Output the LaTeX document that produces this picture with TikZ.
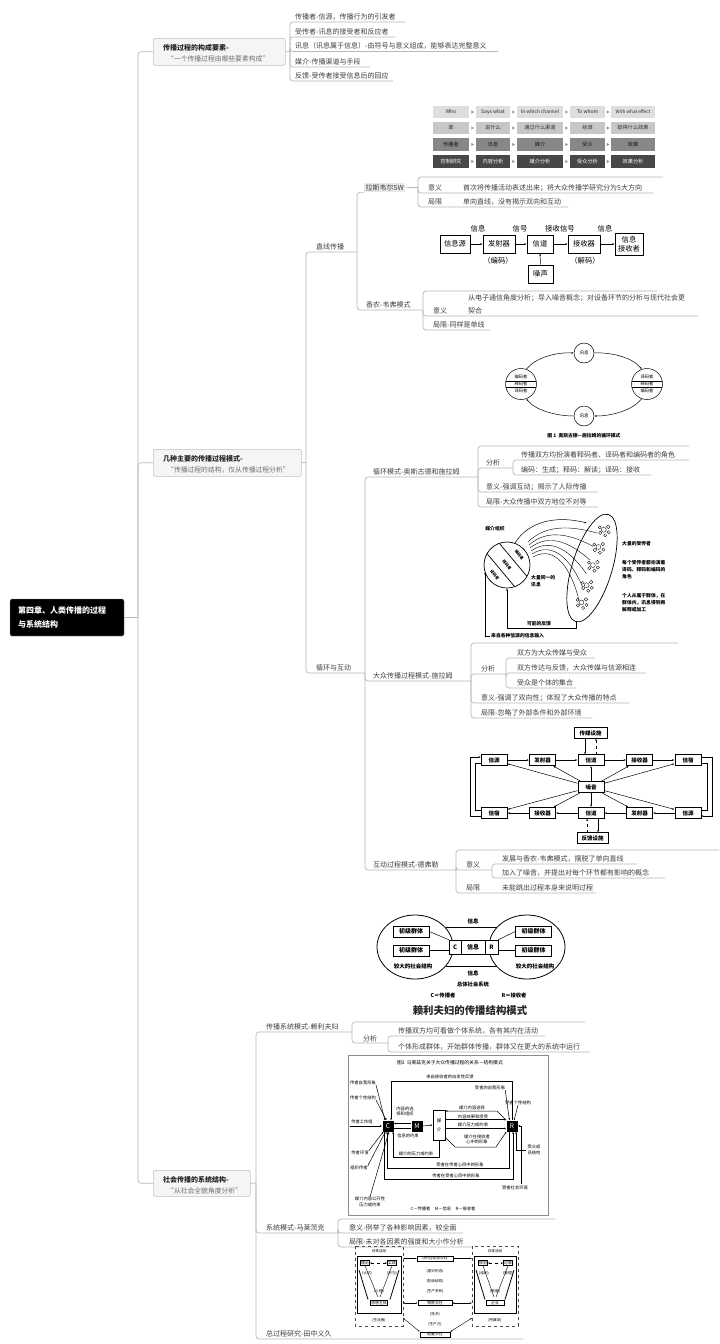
\documentclass[tikz,border=0pt]{standalone}
\usepackage{fontspec}
\setmainfont{Noto Sans CJK SC}
\usetikzlibrary{arrows.meta,calc}
\definecolor{lg}{HTML}{B8B8B8}
\definecolor{txt}{HTML}{404040}
\definecolor{subc}{HTML}{6E6E6E}
\definecolor{boxfill}{HTML}{F5F5F5}
\definecolor{boxline}{HTML}{C2C2C2}
\newcommand{\myfs}[1]{\fontsize{#1}{#1}\selectfont}
\newcommand{\wcell}[7]{\fill[#5] (#1,#3) rectangle (#2,#4);
  \node[inner sep=0pt,text=#6,font=\myfs{5.2}] at ({(#1+#2)/2},{(#3+#4)/2}) {#7};}
\newcommand{\wtri}[2]{\fill[black!45] (#1-1.2,#2-1.6) -- (#1+1.4,#2) -- (#1-1.2,#2+1.6) -- cycle;}
\begin{document}
\begin{tikzpicture}[x=1pt,y=-1pt,
  conn/.style={draw=lg,line width=0.7pt,rounded corners=3pt},
  lbl/.style={inner sep=0pt,anchor=base west,text=txt,font=\myfs{7}},
  bbox/.style={draw=boxline,fill=boxfill,rounded corners=2pt,line width=0.6pt,anchor=north west,inner sep=0pt},
  btitle/.style={inner sep=0pt,anchor=base west,text=black!85,font=\bfseries\myfs{7}},
  bsub/.style={inner sep=0pt,anchor=base west,text=subc,font=\myfs{6.8}},
  dg/.style={draw=black,line width=0.5pt},
  arr/.style={-{Latex[length=3pt,width=2.4pt]}},
  sarr/.style={-{Latex[length=2.2pt,width=1.8pt]}},
  darr/.style={{Latex[length=1.8pt,width=1.5pt]}-{Latex[length=1.8pt,width=1.5pt]}},
  sbox/.style={draw=black,line width=0.6pt,inner sep=1pt,font=\myfs{7.3},minimum height=18pt},
  slab/.style={inner sep=0pt,font=\myfs{7.3}},
  ocirc/.style={circle,draw=black,line width=0.5pt,inner sep=0pt},
  tiny/.style={inner sep=0pt,font=\myfs{4.3}},
  tinyb/.style={inner sep=0pt,font=\bfseries\myfs{4.8}},
  rtxt/.style={inner sep=0pt,font=\bfseries\myfs{3.8},rotate=-50},
  dbox/.style={draw=black,line width=0.9pt,minimum width=26pt,minimum height=11pt,inner sep=0pt,font=\bfseries\myfs{5.5}},
  rbox/.style={draw=black,line width=0.6pt,inner sep=0pt,font=\bfseries\myfs{6}},
  mbox/.style={fill=black,text=white,minimum size=11pt,inner sep=0pt,font=\myfs{6.5}},
  tbox/.style={draw=black,line width=0.4pt,inner sep=0.8pt,font=\myfs{3.8}},
  ttiny/.style={inner sep=0pt,font=\myfs{3.6}},
]
\useasboundingbox (0,0) rectangle (720,1344);
\fill[white] (0,0) rectangle (720,1344);

%================ root & trunk
\node[fill=black,draw=black!60!blue!50,rounded corners=1.5pt,minimum width=114pt,minimum height=37pt,text width=98pt,align=left,text=white,font=\bfseries\fontsize{8}{14}\selectfont,inner sep=0pt] (root) at (67,617.5) {第四章、人类传播的过程\\与系统结构};

\node[bbox,minimum width=132pt,minimum height=27pt] (b1) at (153,38) {};
\node[btitle] (b1t) at (163,50) {传播过程的构成要素-};
\node[bsub] (b1s) at (167,61.5) {“一个传播过程由哪些要素构成”};

\node[bbox,minimum width=148pt,minimum height=27pt] (b2) at (153,449) {};
\node[btitle] (b2t) at (163,461) {几种主要的传播过程模式-};
\node[bsub] (b2s) at (167,472.5) {“传播过程的结构，仅从传播过程分析”};

\node[bbox,minimum width=97pt,minimum height=26pt] (b3) at (153,1170) {};
\node[btitle] (b3t) at (163,1182) {社会传播的系统结构-};
\node[bsub] (b3s) at (167,1193) {“从社会全貌角度分析”};

\coordinate (tr) at (138,617.5);
\draw[conn] (root.east) -- (tr);
\draw[conn] (tr) |- (b1.west);
\draw[conn] (tr) |- (b2.west);
\draw[conn] (tr) |- (b3.west);

%================ branch 1
\coordinate (v1) at (290,51.5);
\draw[conn] (b1.east) -- (v1);
\draw[conn] (v1) |- (405,22);
\draw[conn] (v1) |- (395,37);
\draw[conn] (v1) |- (498,51.5);
\draw[conn] (v1) |- (370,67);
\draw[conn] (v1) |- (393,81);
\node[lbl] (k11) at (295,19) {传播者-信源，传播行为的引发者};
\node[lbl] (k12) at (295,34) {受传者-讯息的接受者和反应者};
\node[lbl] (k13) at (295,48.5) {讯息（讯息属于信息）-由符号与意义组成，能够表达完整意义};
\node[lbl] (k14) at (295,64) {媒介-传播渠道与手段};
\node[lbl] (k15) at (295,78) {反馈-受传者接受信息后的回应};

%================ branch 2
\coordinate (v2) at (306,462.5);
\draw[conn] (b2.east) -- (v2);
\draw[conn] (v2) |- (357,252);
\draw[conn] (v2) |- (365,673);
\node[lbl] (zx) at (316,249) {直线传播};
\node[lbl] (xh) at (316,670) {循环与互动};

% --- 直线传播
\node[fill=black!9,inner sep=1.5pt,anchor=base west,text=txt,font=\myfs{7}] (lsw) at (364,190) {拉斯韦尔5W};
\draw[conn] (357,252) |- (lsw.south west);
\coordinate (v5w) at (418,187.5);
\draw[conn] (lsw.east) -- (v5w);
\draw[conn] (v5w) |- (663,177);
\draw[conn] (v5w) |- (653,193);
\draw[conn] (v5w) |- (568,207);
\node[lbl] (l5a) at (428,190) {意义};
\node[lbl] (l5b) at (463,190) {首次将传播活动表述出来；将大众传播学研究分为5大方向};
\node[lbl] (l5c) at (428,204) {局限};
\node[lbl] (l5d) at (463,204) {单向直线，没有揭示双向和互动};

% 5W table
\wcell{433}{469}{106}{118}{black!13}{black!85}{\myfs{5}Who}
\wcell{476}{510}{106}{118}{black!13}{black!85}{\myfs{5}Says what}
\wcell{517}{563}{106}{118}{black!13}{black!85}{\myfs{4.8}In which channel}
\wcell{570}{605}{106}{118}{black!13}{black!85}{\myfs{5}To whom}
\wcell{611}{655}{106}{118}{black!13}{black!85}{\myfs{4.6}With what effect}
\wcell{433}{469}{122}{134}{black!22}{black!80}{谁}
\wcell{476}{510}{122}{134}{black!22}{black!80}{说什么}
\wcell{517}{563}{122}{134}{black!22}{black!80}{通过什么渠道}
\wcell{570}{605}{122}{134}{black!22}{black!80}{给谁}
\wcell{611}{655}{122}{134}{black!22}{black!80}{取得什么效果}
\wcell{433}{469}{138}{151}{black!47}{black!90}{传播者}
\wcell{476}{510}{138}{151}{black!47}{black!90}{讯息}
\wcell{517}{563}{138}{151}{black!47}{black!90}{媒介}
\wcell{570}{605}{138}{151}{black!47}{black!90}{受众}
\wcell{611}{655}{138}{151}{black!47}{black!90}{效果}
\wcell{433}{469}{155}{168}{black!72}{white}{控制研究}
\wcell{476}{510}{155}{168}{black!72}{white}{内容分析}
\wcell{517}{563}{155}{168}{black!72}{white}{媒介分析}
\wcell{570}{605}{155}{168}{black!72}{white}{受众分析}
\wcell{611}{655}{155}{168}{black!72}{white}{效果分析}
\foreach \yy in {112,128,144.5,161.5}{
  \wtri{472.5}{\yy}\wtri{513.5}{\yy}\wtri{566.5}{\yy}\wtri{608}{\yy}}

% --- 香农-韦弗
\draw[conn] (357,252) |- (423,310);
\node[lbl] (sw) at (366,307) {香农-韦弗模式};
\coordinate (vsw) at (423,310);
\draw[conn] (vsw) |- (657,291);
\draw[conn] (vsw) |- (698,316);
\draw[conn] (vsw) |- (490,330);
\node[lbl] (swa) at (433,313) {意义};
\node[lbl] (swb) at (468,300) {从电子通信角度分析；导入噪音概念；对设备环节的分析与现代社会更};
\node[lbl] (swc) at (468,313) {契合};
\node[lbl] (swd) at (433,327) {局限-同样是单线};

% Shannon diagram
\node[sbox,minimum width=30pt] (s1) at (455,244) {信息源};
\node[sbox,minimum width=32pt] (s2) at (499,244) {发射器};
\node[sbox,minimum width=26pt] (s3) at (540,244) {信道};
\node[sbox,minimum width=32pt] (s4) at (584,244) {接收器};
\node[sbox,minimum width=28pt,minimum height=22pt,align=center,font=\fontsize{7.3}{9}\selectfont] (s5) at (629,244) {信息\\接收者};
\node[sbox,minimum width=25pt] (sN) at (540.5,274) {噪声};
\draw[dg,sarr] (s1) -- (s2);
\draw[dg,sarr] (s2) -- (s3);
\draw[dg,sarr] (s3) -- (s4);
\draw[dg,sarr] (s4) -- (s5);
\draw[dg,sarr] (sN) -- (s3);
\node[slab] (sl1) at (478,229) {信息};
\node[slab] (sl2) at (520,229) {信号};
\node[slab] (sl3) at (560,229) {接收信号};
\node[slab] (sl4) at (605,229) {信息};
\node[slab] (sl5) at (498,261) {（编码）};
\node[slab] (sl6) at (585,261) {（解码）};

% --- 循环与互动
\coordinate (vxh) at (365,673);
\draw[conn] (vxh) |- (478,477);
\draw[conn] (vxh) |- (471,681);
\draw[conn] (vxh) |- (456,870);
\node[lbl] (os) at (373,474) {循环模式-奥斯古德和施拉姆};
\node[lbl] (ms) at (373,678) {大众传播过程模式-施拉姆};
\node[lbl] (df) at (373,867) {互动过程模式-德弗勒};

% 循环模式 children
\coordinate (vos) at (478,477);
\draw[conn] (vos) |- (689,446);
\draw[conn] (vos) |- (513,468);
\draw[conn] (vos) |- (598,492);
\draw[conn] (vos) |- (598,507);
\node[lbl] (osa) at (486,465) {分析};
\node[lbl] (osb) at (486,489) {意义-强调互动；揭示了人际传播};
\node[lbl] (osc) at (486,504) {局限-大众传播中双方地位不对等};
\coordinate (vosa) at (513,468);
\draw[conn] (vosa) |- (689,460);
\draw[conn] (vosa) |- (651,475);
\node[lbl] (osa1) at (521,457) {传播双方均扮演着释码者、译码者和编码者的角色};
\node[lbl] (osa2) at (521,472) {编码：生成；释码：解读；译码：接收};

% Osgood diagram
\node[ocirc,minimum size=20pt,font=\myfs{4.5}] (oT) at (584,353) {讯息};
\node[ocirc,minimum size=20pt,font=\myfs{4.5}] (oB) at (584,416) {讯息};
\node[ocirc,minimum size=31pt] (oL) at (521,384) {};
\node[ocirc,minimum size=31pt] (oR) at (647,384) {};
\draw[dg] (505.8,380.8) -- (536.2,380.8);
\draw[dg] (505.8,387.2) -- (536.2,387.2);
\draw[dg] (631.8,380.8) -- (662.2,380.8);
\draw[dg] (631.8,387.2) -- (662.2,387.2);
\node[tiny] (oL1) at (521,377.3) {编码者};
\node[tiny] (oL2) at (521,384) {释码者};
\node[tiny] (oL3) at (521,390.7) {译码者};
\node[tiny] (oR1) at (647,377.3) {译码者};
\node[tiny] (oR2) at (647,384) {释码者};
\node[tiny] (oR3) at (647,390.7) {编码者};
\draw[dg,sarr] (oL.70) .. controls (535,358) and (556,352) .. (oT.west);
\draw[dg,sarr] (oT.east) .. controls (612,352) and (633,358) .. (oR.110);
\draw[dg,sarr] (oR.-110) .. controls (633,410) and (612,416) .. (oB.east);
\draw[dg,sarr] (oB.west) .. controls (556,416) and (535,410) .. (oL.-70);
\node[tinyb] (ocap) at (584,436) {图 1\ \ 奥斯古德—施拉姆的循环模式};

% 大众传播 children
\coordinate (vms) at (471,681);
\draw[conn] (vms) |- (678,643);
\draw[conn] (vms) |- (506,674);
\draw[conn] (vms) |- (629,703);
\draw[conn] (vms) |- (592,718);
\node[lbl] (msa) at (481,671) {分析};
\node[lbl] (msb) at (481,700) {意义-强调了双向性；体现了大众传播的特点};
\node[lbl] (msc) at (481,715) {局限-忽略了外部条件和外部环境};
\coordinate (vmsa) at (506,674);
\draw[conn] (vmsa) |- (595,658);
\draw[conn] (vmsa) |- (646,673);
\draw[conn] (vmsa) |- (576,688);
\node[lbl] (msa1) at (517,655) {双方为大众传媒与受众};
\node[lbl] (msa2) at (517,670) {双方传达与反馈，大众传媒与信源相连};
\node[lbl] (msa3) at (517,685) {受众是个体的集合};

% Schramm mass diagram
\node[ocirc,minimum size=46pt,line width=0.7pt] (sc) at (507,565) {};
\draw[dg,line width=0.7pt] (499.3,543.3) -- (527,576.4);
\draw[dg,line width=0.7pt] (487,553.6) -- (514.7,586.7);
\node[rtxt] (sc1) at (519.3,554.7) {编码者};
\node[rtxt] (sc2) at (507,565) {释码者};
\node[rtxt] (sc3) at (494.7,575.3) {译码者};
\draw[dg,line width=0.7pt,rotate around={-17:(592,568)}] (592,568) ellipse [x radius=20pt,y radius=56pt];
\foreach \cx/\cy in {603.7/529.8,598.4/547,592.9/565.1,586.7/585.2,581.5/602.4}{
  \foreach \dx/\dy/\rr in {0/0/2.4,4.5/-3/1.8,5/2.5/1.6,-3.5/3/1.7,1.5/5.5/1.6,-4/-2.5/1.5}{
    \draw[black,line width=0.35pt] (\cx+\dx,\cy+\dy) circle [radius=\rr pt];}}
\foreach \i in {0,...,5}{
  \draw[dg,line width=0.4pt] ({528+\i},{542+3*\i}) .. controls ({546+2*\i},{524+4*\i}) and (572,{526+9*\i}) .. ({597-3.6*\i},{533+13.5*\i});}
\draw[dg,sarr] (515,543) .. controls (528,522) and (555,515) .. (587,523);
\draw[dg,sarr] (576,621) -- (576,628) -- (507,628) -- (sc.south);
\draw[dg,sarr] (490,636) -- (485,636) -- (485,572);
\node[tinyb] (m1) at (495,529) {媒介组织};
\node[tinyb,anchor=west] (m2) at (622,544) {大量的受传者};
\node[tinyb,anchor=west,align=left,font=\bfseries\fontsize{4.8}{7}\selectfont] (m3) at (622,569.5) {每个受传者都扮演着\\译码、释码和编码的\\角色};
\node[tinyb,anchor=west,align=left,font=\bfseries\fontsize{4.8}{7}\selectfont] (m4) at (622,603) {个人从属于群体，在\\群体内，讯息得到再\\解释或加工};
\node[tinyb,anchor=west,align=left,font=\bfseries\fontsize{4.8}{7}\selectfont] (m5) at (531,581.5) {大量同一的\\讯息};
\node[tinyb] (m6) at (539,623.5) {可能的反馈};
\node[tinyb,anchor=west] (m7) at (491,636) {来自各种信源的信息输入};

% 互动 children
\coordinate (vdf) at (456,870);
\draw[conn] (vdf) |- (719,850);
\draw[conn] (vdf) |- (492,870);
\draw[conn] (vdf) |- (596,893);
\node[lbl] (dfa) at (466,867) {意义};
\node[lbl] (dfb) at (466,890) {局限};
\node[lbl] (dfc) at (502,890) {未能跳出过程本身来说明过程};
\coordinate (vdfa) at (492,870);
\draw[conn] (vdfa) |- (637,864);
\draw[conn] (vdfa) |- (665,878);
\node[lbl] (dfa1) at (502,861) {发展与香农-韦弗模式，摆脱了单向直线};
\node[lbl] (dfa2) at (502,875) {加入了噪音，并提出对每个环节都有影响的概念};

% DeFleur diagram
\node[dbox] (t1) at (494,760) {信源};
\node[dbox] (t2) at (542.5,760) {发射器};
\node[dbox] (t3) at (591,760) {信道};
\node[dbox] (t4) at (639.5,760) {接收器};
\node[dbox] (t5) at (688,760) {信宿};
\node[dbox] (d1) at (494,813) {信宿};
\node[dbox] (d2) at (542.5,813) {接收器};
\node[dbox] (d3) at (591,813) {信道};
\node[dbox] (d4) at (639.5,813) {发射器};
\node[dbox] (d5) at (688,813) {信源};
\node[dbox] (dN) at (591,787) {噪音};
\node[dbox,minimum width=33pt] (dT) at (590.5,733) {传媒设施};
\node[dbox,minimum width=31pt] (dB) at (592.5,838) {反馈设施};
\draw[dg,sarr] (t1) -- (t2);
\draw[dg,sarr] (t2) -- (t3);
\draw[dg,sarr] (t3) -- (t4);
\draw[dg,sarr] (t4) -- (t5);
\draw[dg,sarr] (d5) -- (d4);
\draw[dg,sarr] (d4) -- (d3);
\draw[dg,sarr] (d3) -- (d2);
\draw[dg,sarr] (d2) -- (d1);
\foreach \n in {t1,t2,t4,t5,d1,d2,d4,d5}{\draw[dg,sarr] (dN) -- (\n);}
\draw[dg,sarr] (dN) -- (t3);
\draw[dg,sarr] (dN) -- (d3);
\draw[dg,sarr] (585,738.5) -- (585,754.5);
\draw[dg,dashed,sarr] (596,754.5) -- (596,738.5);
\draw[dg,dashed,sarr] (587,832.5) -- (587,818.5);
\draw[dg,sarr] (598,818.5) -- (598,832.5);
\draw[dg,sarr] (481,816) -- (470,816) -- (470,757) -- (481,757);
\draw[dg] (481,810) -- (475,810) -- (475,763) -- (481,763);
\draw[dg,sarr] (701,757) -- (712,757) -- (712,816) -- (701,816);
\draw[dg] (701,763) -- (707,763) -- (707,810) -- (701,810);

%================ branch 3
\coordinate (v3) at (256,1183);
\draw[conn] (b3.east) -- (v3);
\draw[conn] (v3) |- (352,1032);
\draw[conn] (v3) |- (338,1233);
\draw[conn] (v3) |- (523,1339);
\node[lbl] (rl) at (266,1029) {传播系统模式-赖利夫妇};
\node[lbl] (ml) at (266,1230) {系统模式-马莱茨克};
\node[lbl] (tn) at (266,1336) {总过程研究-田中义久};

% Riley children
\coordinate (vrl) at (352,1032);
\draw[conn] (vrl) |- (585,1022);
\draw[conn] (vrl) |- (388,1043);
\node[lbl] (rla) at (363,1041) {分析};
\coordinate (vrla) at (388,1043);
\draw[conn] (vrla) |- (545,1036);
\draw[conn] (vrla) |- (590,1052);
\node[lbl] (rla1) at (398,1033) {传播双方均可看做个体系统，各有其内在活动};
\node[lbl] (rla2) at (398,1049) {个体形成群体，开始群体传播，群体又在更大的系统中运行};

% Riley diagram
\draw[dg,line width=0.8pt] (415,947) ellipse [x radius=38pt,y radius=32pt];
\draw[dg,line width=0.8pt] (527,947) ellipse [x radius=38pt,y radius=32pt];
\draw[dg,line width=0.7pt] (445.5,927.5) -- (496.5,927.5);
\draw[dg,line width=0.7pt] (445.5,966.5) -- (496.5,966.5);
\node[rbox,minimum width=36pt,minimum height=11pt] (rl1) at (411,931.5) {初级群体};
\node[rbox,minimum width=36pt,minimum height=11pt] (rl2) at (411,950.5) {初级群体};
\node[rbox,minimum width=36pt,minimum height=11pt] (rr1) at (533.5,931.5) {初级群体};
\node[rbox,minimum width=36pt,minimum height=11pt] (rr2) at (533.5,950.5) {初级群体};
\node[rbox,minimum width=12pt,minimum height=14pt,fill=white] (rC) at (455,947) {C};
\node[rbox,minimum width=24pt,minimum height=14pt,fill=white] (rI) at (473,947) {信息};
\node[rbox,minimum width=13pt,minimum height=14pt,fill=white] (rR) at (491.5,947) {R};
\draw[dg] (rl1.east) -- (rC.north west);
\draw[dg] (rl2.east) -- (rC.west |- rl2.east);
\draw[dg] (rr1.west) -- (rR.north east);
\draw[dg] (rr2.west) -- (rR.east |- rr2.east);
\node[inner sep=0pt,font=\bfseries\myfs{5.5}] (ri1) at (473,921) {信息};
\node[inner sep=0pt,font=\bfseries\myfs{5.5}] (ri2) at (473,973) {信息};
\node[inner sep=0pt,font=\bfseries\myfs{5.5}] (rs1) at (413,966) {较大的社会结构};
\node[inner sep=0pt,font=\bfseries\myfs{5.5}] (rs2) at (535,966) {较大的社会结构};
\node[inner sep=0pt,font=\bfseries\myfs{5.3}] (rs3) at (473,984) {总体社会系统};
\node[inner sep=0pt,font=\bfseries\myfs{5.3}] (rs4) at (443,995) {C＝传播者};
\node[inner sep=0pt,font=\bfseries\myfs{5.3}] (rs5) at (514,995) {R＝接收者};
\node[inner sep=0pt,font=\bfseries\myfs{10.4},text=black!85] (rtitle) at (470,1011) {赖利夫妇的传播结构模式};

% Maletzke children
\coordinate (vml) at (338,1233);
\draw[conn] (vml) |- (555,1219);
\draw[conn] (vml) |- (463,1233);
\draw[conn] (vml) |- (472,1247);
\node[lbl] (mla) at (349,1230) {意义-例举了各种影响因素，较全面};
\node[lbl] (mlb) at (349,1244) {局限-未对各因素的强度和大小作分析};

% Maletzke diagram
\draw[black!45,line width=0.5pt] (348,1055) rectangle (548,1215);
\node[tiny,font=\myfs{4.8}] (mt) at (450,1063) {图3\ \ 马莱兹克关于大众传播过程的关系－结构模式};
\node[mbox] (mC) at (388,1126) {C};
\node[mbox] (mM) at (417,1126) {M};
\node[mbox] (mR) at (512,1126) {R};
\node[draw,line width=0.5pt,minimum width=12pt,minimum height=30pt,inner sep=0pt,align=center,font=\fontsize{4.5}{9}\selectfont] (mMed) at (439,1125) {媒\\介};
\draw[dg,sarr] (mR.north) -- (512,1081) -- (391,1081) -- (391,1120.5);
\node[tiny] (mt1) at (450,1077) {来自接收者的自发性反馈};
\node[tiny] (mq1) at (363,1083) {传者自我形象};
\node[tiny] (mq2) at (363,1098) {传者个性结构};
\node[tiny] (mq3) at (362,1122) {传者工作组};
\node[tiny] (mq4) at (360,1153) {传者环境};
\node[tiny] (mq5) at (359,1168) {组织传者};
\node[tiny,align=center,font=\fontsize{4.3}{6}\selectfont] (mq6) at (370,1202) {媒介内容公开性\\压力或约束};
\draw[dg,sarr] (mq1.south east) -- (385,1120.5);
\draw[dg,sarr] (mq2.south east) -- (386.5,1120.5);
\draw[dg,sarr,line width=0.9pt] (350,1126) -- (mC.west);
\draw[dg,sarr] (mq4.north east) -- (383.5,1131.5);
\draw[dg,sarr] (mq5.north east) -- (385.5,1131.5);
\draw[dg,sarr] (mq6.north) -- (389,1131.5);
\draw[dg,sarr] (mM.west |- 0,1123.5) -- (mC.east |- 0,1123.5);
\draw[dg] (mC.east |- 0,1128.5) -- (mM.west |- 0,1128.5);
\draw[dg,sarr] (mM.east) -- (mMed.west);
\node[tiny,align=center,font=\fontsize{4.3}{5.5}\selectfont] (mc1) at (405,1111.5) {内容的选\\择和组织};
\node[tiny] (mc2) at (408,1136) {信息的约束};
\draw[dg,sarr] (mR.north west) -- (497,1111) -- (mMed.east |- 0,1111);
\draw[dg,sarr] (mMed.east |- 0,1119.5) -- (mR.west |- 0,1119.5);
\draw[dg,sarr] (mMed.east |- 0,1128.5) -- (mR.west |- 0,1128.5);
\node[tiny] (mc3) at (472,1107.5) {媒介内容选择};
\node[tiny] (mc4) at (473,1116.5) {内容效果和感受};
\node[tiny] (mc5) at (473,1125) {媒介压力或约束};
\draw[dg,sarr] (445,1137) -- (455,1147) -- (496,1147) -- (506.5,1131.5);
\node[tiny,align=center,font=\fontsize{4.3}{5.5}\selectfont] (mc6) at (477,1139.5) {媒介在接收者\\心中的形象};
\draw[dg,sarr] (439,1140) -- (439,1157) -- (393,1157) -- (393,1131.5);
\node[tiny] (mc7) at (416,1153.5) {媒介的压力或约束};
\draw[dg,sarr] (509,1131.5) -- (509,1168) -- (387,1168) -- (387,1131.5);
\node[tiny] (mc8) at (460,1164.5) {受者在传者心目中的形象};
\draw[dg,sarr] (384,1131.5) -- (384,1179) -- (513,1179) -- (513,1131.5);
\node[tiny] (mc9) at (456,1175.5) {传者在受者心目中的形象};
\node[tiny] (mr1) at (490,1088) {受者的自我形象};
\node[tiny] (mr2) at (518,1103) {受者个性结构};
\draw[dg,sarr] (mr1.south east) -- (509.5,1120.5);
\draw[dg,sarr] (mr2.south) -- (514,1120.5);
\node[tiny,align=center,font=\fontsize{4.3}{6}\selectfont] (mr3) at (534,1150) {受众成\\员结构};
\draw[dg,sarr] (526,1150) -- (516,1150) -- (516,1131.5);
\node[tiny] (mr4) at (515,1188) {受者社会环境};
\draw[dg,sarr] (521,1184) -- (521,1126) -- (mR.east);
\node[tiny] (mleg) at (443,1209) {C－传播者\quad M－信息\quad R－接收者};

% Tanaka diagram
\draw[black!70,dashed,line width=0.4pt] (355,1246) rectangle (403,1326);
\draw[black!70,dashed,line width=0.4pt] (472,1246) rectangle (518,1326);
\draw[black,line width=0.5pt] (357,1256) rectangle (401,1313);
\draw[black,line width=0.5pt] (474,1256) rectangle (516,1313);
\node[ttiny] (ta0) at (379,1251) {日常活动};
\node[ttiny] (tb0) at (495,1251) {日常活动};
\node[tbox] (ta1) at (365,1263) {理论};
\node[tbox] (ta2) at (392,1263) {实践};
\node[tbox] (ta3) at (379,1303) {思想主体};
\draw[dg,dashed,darr,line width=0.4pt] (ta1) -- (ta2);
\draw[dg,line width=0.8pt] (359,1270) -- (368,1299.5);
\draw[dg,line width=0.8pt] (399,1270) -- (390,1299.5);
\draw[dg,line width=0.4pt] (ta1.south) -- (378,1297);
\draw[dg,line width=0.4pt] (ta2.south) -- (380,1297);
\node[ttiny] (ta4) at (367,1273) {(认识)};
\node[ttiny] (ta5) at (392,1273) {(行为)};
\node[ttiny] (ta6) at (379,1291) {(人格)};
\node[ttiny] (ta7) at (379,1320) {(生活者)};
\node[tbox] (tb1) at (483,1263) {规划};
\node[tbox] (tb2) at (508,1263) {记录};
\node[tbox,minimum width=18pt] (tb3) at (495,1303) {企业};
\draw[dg,dashed,darr,line width=0.4pt] (tb1) -- (tb2);
\draw[dg,line width=0.8pt] (476,1270) -- (485,1299.5);
\draw[dg,line width=0.8pt] (514,1270) -- (505,1299.5);
\draw[dg,line width=0.4pt] (tb1.south) -- (494,1297);
\draw[dg,line width=0.4pt] (tb2.south) -- (496,1297);
\node[ttiny] (tb4) at (484,1273) {(组织)};
\node[ttiny] (tb5) at (508,1273) {(管理)};
\node[ttiny] (tb6) at (495,1291) {(制度)};
\node[ttiny] (tb7) at (495,1320) {(所属体)};
\node[tbox,minimum width=36pt] (tm1) at (435,1258.5) {(符号)信息交往};
\node[ttiny] (tm4) at (435,1271) {(意识形态)};
\node[ttiny] (tm5) at (435,1281) {(阶级结构)};
\node[ttiny] (tm6) at (435,1291) {(生产关系)};
\node[tbox,minimum width=34pt] (tm2) at (435,1303) {物质交往};
\node[ttiny] (tm7) at (435,1314) {(技术)};
\node[ttiny] (tm8) at (435,1324) {(生产力)};
\node[tbox,minimum width=30pt] (tm3) at (435,1334.5) {能量交往};
\draw[dg,darr,line width=0.4pt] (403,1258.5) -- (tm1.west);
\draw[dg,darr,line width=0.4pt] (tm1.east) -- (472,1258.5);
\draw[dg,darr,line width=0.4pt] (403,1303) -- (tm2.west);
\draw[dg,darr,line width=0.4pt] (tm2.east) -- (472,1303);
\draw[dg,darr,line width=0.4pt] (403,1318) -- (tm3.north west);
\draw[dg,darr,line width=0.4pt] (472,1318) -- (tm3.north east);
\end{tikzpicture}
\end{document}
